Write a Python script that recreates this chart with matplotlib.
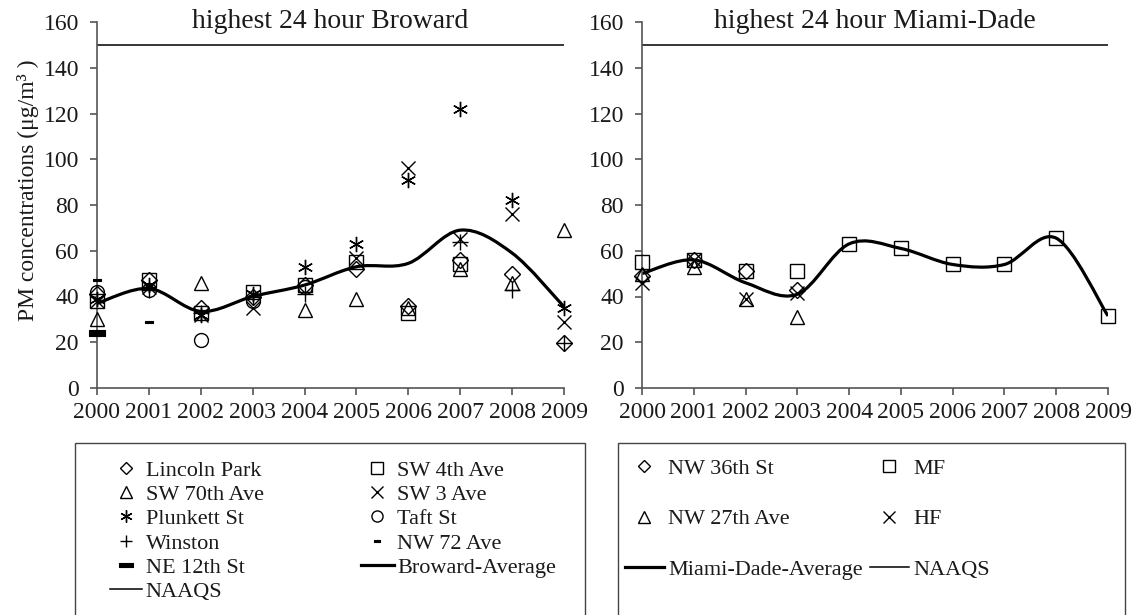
import numpy as np
import matplotlib
matplotlib.use("Agg")
import matplotlib.pyplot as plt
from matplotlib.path import Path
from matplotlib.patches import PathPatch, Rectangle
from matplotlib.lines import Line2D

plt.rcParams['font.family'] = ['Liberation Serif', 'DejaVu Serif']

nan = np.nan
years = [2000, 2001, 2002, 2003, 2004, 2005, 2006, 2007, 2008, 2009]

# ---- Broward sites ----
lincoln_park = [41, 47, 35, 40, 45, 52, 36, 56, 50, 19.5]
sw_4th_ave   = [38, 47, 33, 42, 45, 55, 33, 54, nan, nan]
sw_70th_ave  = [30, nan, 46, nan, 34, 39, 35, 52, 46, 69]
sw_3_ave     = [38, 44, 32, 35, nan, 57, 96, 65, 76, 29]
plunkett_st  = [39, 45, 32, 41, 53, 63, 91, 122, 82, 35]
taft_st      = [42, 43, 21, 38, 44, nan, nan, nan, nan, nan]
winston      = [nan, 43, 33, 40, 41, nan, nan, 64, 43, 19.5]
nw_72_ave    = [47, 29, nan, nan, nan, nan, nan, nan, nan, nan]
ne_12th_st   = [24, nan, nan, nan, nan, nan, nan, nan, nan, nan]
broward_avg  = [37, 43.5, 33.5, 40, 45, 53, 54.5, 69, 59, 35.5]

# ---- Miami-Dade sites ----
nw_36th_st  = [49, 56, 51, 43, nan, nan, nan, nan, nan, nan]
mf          = [55, 56, 51, 51, 63, 61, 54, 54, 65.5, 31.5]
nw_27th_ave = [50, 53, 39, 31, nan, nan, nan, nan, nan, nan]
hf          = [46, 56, 39, 41.5, nan, nan, nan, nan, nan, nan]
miami_avg   = [50, 56, 46, 41, 63, 61, 54, 54, 65.5, 31.5]

naaqs = 150

TXT = '#1a1a1a'
FS = 17
LFS = 16
W, H = 1134, 615


def smooth_path(x, y):
    # excel style smoothed line (catmull-rom as cubic bezier)
    x = np.asarray(x, float)
    y = np.asarray(y, float)
    px = np.concatenate([[x[0]], x, [x[-1]]])
    py = np.concatenate([[y[0]], y, [y[-1]]])
    verts = [(x[0], y[0])]
    codes = [Path.MOVETO]
    for i in range(1, len(px) - 2):
        c1 = (px[i] + (px[i + 1] - px[i - 1]) / 6, py[i] + (py[i + 1] - py[i - 1]) / 6)
        c2 = (px[i + 1] - (px[i + 2] - px[i]) / 6, py[i + 1] - (py[i + 2] - py[i]) / 6)
        verts += [c1, c2, (px[i + 1], py[i + 1])]
        codes += [Path.CURVE4] * 3
    return Path(verts, codes)


def style_axes(ax, title):
    ax.set_xlim(2000, 2009)
    ax.set_ylim(0, 160)
    ax.set_xticks(years)
    ax.set_yticks(range(0, 161, 20))
    for s in ['top', 'right']:
        ax.spines[s].set_visible(False)
    for s in ['left', 'bottom']:
        ax.spines[s].set_color('#555555')
        ax.spines[s].set_linewidth(1.2)
    ax.tick_params(direction='out', length=5, width=1.2, color='#555555',
                   labelsize=FS, labelcolor=TXT)
    ax.tick_params(axis='y', pad=8)
    ax.tick_params(axis='x', pad=5)
    ax.text(0.5, 1.0, title, transform=ax.transAxes, ha='center', va='center',
            fontsize=20, color=TXT)
    ax.axhline(naaqs, color='black', lw=1.1)


# bar shaped marker for the two short-record sites
bar = Path([(-1, -0.35), (1, -0.35), (1, 0.35), (-1, 0.35), (-1, -0.35)],
           [Path.MOVETO, Path.LINETO, Path.LINETO, Path.LINETO, Path.CLOSEPOLY])

mk = dict(linestyle='none', markerfacecolor='none', markeredgecolor='black',
          markeredgewidth=1.0, clip_on=False, zorder=3)
mk_bar = dict(linestyle='none', markerfacecolor='black', markeredgecolor='black',
              markeredgewidth=0.8, clip_on=False, zorder=3)

fig = plt.figure(figsize=(W / 100, H / 100), dpi=100)
ax1 = fig.add_axes([97 / W, 1 - 388 / H, 467 / W, 366 / H])
ax2 = fig.add_axes([642 / W, 1 - 388 / H, 466 / W, 366 / H])

# ---------- Broward ----------
style_axes(ax1, 'highest 24 hour Broward')
h_lp, = ax1.plot(years, lincoln_park, marker='D', markersize=8, label='Lincoln Park', **mk)
h_sw4, = ax1.plot(years, sw_4th_ave, marker='s', markersize=10, label='SW 4th Ave', **mk)
h_sw70, = ax1.plot(years, sw_70th_ave, marker='^', markersize=10, label='SW 70th Ave', **mk)
h_sw3, = ax1.plot(years, sw_3_ave, marker='x', markersize=10, label='SW 3 Ave', **mk)
h_pl, = ax1.plot(years, plunkett_st, marker=(6, 2, 0), markersize=11, label='Plunkett St', **mk)
h_taft, = ax1.plot(years, taft_st, marker='o', markersize=10, label='Taft St', **mk)
h_win, = ax1.plot(years, winston, marker='+', markersize=11, label='Winston', **mk)
h_nw72, = ax1.plot(years, nw_72_ave, marker=bar, markersize=6, label='NW 72 Ave', **mk_bar)
h_ne12, = ax1.plot(years, ne_12th_st, marker=bar, markersize=12, label='NE 12th St', **mk_bar)
ax1.add_patch(PathPatch(smooth_path(years, broward_avg), fill=False, lw=2.3,
                        edgecolor='black', zorder=2))
h_bavg = Line2D([], [], color='black', lw=2.3, label='Broward-Average')
h_naaqs = Line2D([], [], color='black', lw=1.1, label='NAAQS')

ax1.set_ylabel('PM concentrations (μg/m³ )', fontsize=FS, color=TXT)
ax1.yaxis.set_label_coords(-0.125, 0.54)

# legend frames
for x0, x1 in [(75, 585), (618, 1125)]:
    fig.patches.append(Rectangle((x0 / W, -0.05), (x1 - x0) / W, 0.05 + 1 - 443 / H,
                                 transform=fig.transFigure, fill=False,
                                 edgecolor='#444444', lw=1.0))

handles1 = [h_lp, h_sw70, h_pl, h_win, h_ne12, h_naaqs,
            h_sw4, h_sw3, h_taft, h_nw72, h_bavg]
fig.legend(handles=handles1, ncol=2, loc='upper left',
           bbox_to_anchor=(110 / W, 1 - 460 / H), borderaxespad=0, borderpad=0,
           fontsize=LFS, frameon=False, labelspacing=0.17, handlelength=1.45,
           handletextpad=0.15, columnspacing=4.4, markerscale=0.8, labelcolor=TXT)

# ---------- Miami-Dade ----------
style_axes(ax2, 'highest 24 hour Miami-Dade')
m_36, = ax2.plot(years, nw_36th_st, marker='D', markersize=8, label='NW 36th St', **mk)
m_mf, = ax2.plot(years, mf, marker='s', markersize=10, label='MF', **mk)
m_27, = ax2.plot(years, nw_27th_ave, marker='^', markersize=10, label='NW 27th Ave', **mk)
m_hf, = ax2.plot(years, hf, marker='x', markersize=10, label='HF', **mk)
ax2.add_patch(PathPatch(smooth_path(years, miami_avg), fill=False, lw=2.3,
                        edgecolor='black', zorder=2))
m_avg = Line2D([], [], color='black', lw=2.3, label='Miami-Dade-Average')

handles2 = [m_36, m_27, m_avg, m_mf, m_hf, h_naaqs]
fig.legend(handles=handles2, ncol=2, loc='upper left',
           bbox_to_anchor=(625 / W, 1 - 458 / H), borderaxespad=0, borderpad=0,
           fontsize=LFS, frameon=False, labelspacing=1.36, handlelength=1.75,
           handletextpad=0.2, columnspacing=0.3, markerscale=0.8, labelcolor=TXT)

plt.savefig('out.png', dpi=100)
